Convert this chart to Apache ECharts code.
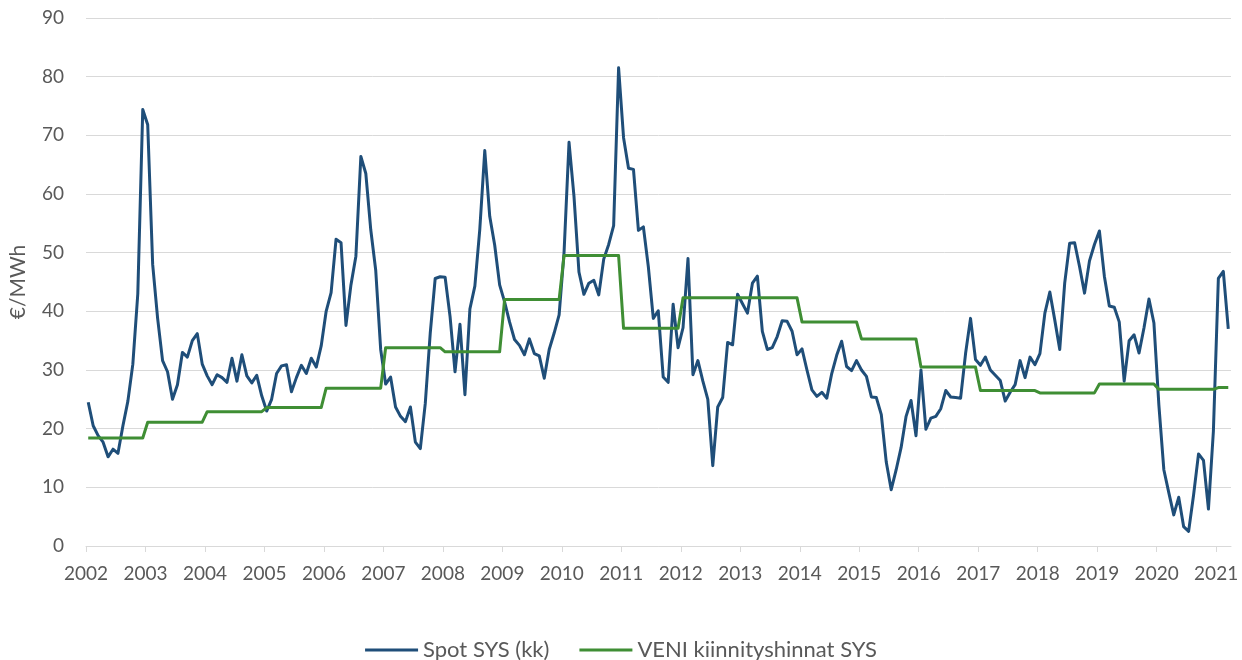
<!DOCTYPE html>
<html>
<head>
<meta charset="utf-8">
<script src="https://cdn.jsdelivr.net/npm/echarts@6/dist/echarts.min.js"></script>
<style>
html,body{margin:0;padding:0;background:#fff;}
#chart{width:1242px;height:660px;}
</style>
</head>
<body>
<div id="chart"></div>
<script>
// ---- data ----
const startYear = 2002;
const tickYears = [2002,2003,2004,2005,2006,2007,2008,2009,2010,2011,2012,2013,2014,2015,2016,2017,2018,2019,2020,2021];
const yTicks = [0,10,20,30,40,50,60,70,80,90];
const seriesNames = ['Spot SYS (kk)', 'VENI kiinnityshinnat SYS'];

// Monthly spot system price, Jan 2002 .. Mar 2021 (EUR/MWh)
const spotValues = [
  24.5, 20.5, 18.8, 17.7, 15.2, 16.5, 15.8, 20.5, 24.7, 31.0, 43.0, 74.4,   // 2002
  71.8, 48.0, 38.8, 31.6, 29.7, 25.0, 27.5, 33.0, 32.2, 35.0, 36.2, 31.0,   // 2003
  29.0, 27.5, 29.2, 28.7, 27.9, 32.0, 28.1, 32.6, 29.0, 27.8, 29.1, 25.6,   // 2004
  23.0, 25.0, 29.4, 30.7, 30.9, 26.3, 28.7, 30.8, 29.4, 32.0, 30.5, 34.1,   // 2005
  40.0, 43.2, 52.3, 51.7, 37.6, 44.5, 49.4, 66.4, 63.5, 53.9, 47.0, 33.5,   // 2006
  27.6, 28.8, 23.7, 22.1, 21.2, 23.7, 17.7, 16.6, 24.3, 36.3, 45.6, 45.9,   // 2007
  45.8, 39.1, 29.7, 37.8, 25.8, 40.4, 44.3, 54.0, 67.4, 56.2, 51.3, 44.5,   // 2008
  41.6, 38.2, 35.2, 34.2, 32.6, 35.3, 32.8, 32.4, 28.6, 33.5, 36.3, 39.4,   // 2009
  50.1, 68.8, 59.6, 46.7, 42.9, 44.8, 45.3, 42.8, 48.9, 51.4, 54.6, 81.5,   // 2010
  69.6, 64.4, 64.2, 53.8, 54.4, 47.6, 38.8, 40.1, 28.8, 27.9, 41.2, 33.8,   // 2011
  37.2, 49.0, 29.2, 31.6, 28.1, 25.0, 13.7, 23.7, 25.3, 34.7, 34.3, 42.9,   // 2012
  41.3, 39.7, 44.8, 46.0, 36.6, 33.5, 33.8, 35.7, 38.4, 38.3, 36.6, 32.6,   // 2013
  33.6, 30.0, 26.6, 25.5, 26.2, 25.2, 29.4, 32.5, 34.9, 30.6, 29.9, 31.6,   // 2014
  30.0, 28.9, 25.4, 25.3, 22.4, 14.3,  9.6, 13.0, 16.8, 22.1, 24.8, 18.8,   // 2015
  30.0, 19.9, 21.8, 22.1, 23.4, 26.5, 25.4, 25.3, 25.2, 32.8, 38.8, 31.8,   // 2016
  30.8, 32.2, 30.0, 29.1, 28.2, 24.7, 26.2, 27.5, 31.6, 28.7, 32.2, 30.9,   // 2017
  32.8, 39.7, 43.3, 38.5, 33.5, 44.8, 51.6, 51.7, 47.6, 43.1, 48.6, 51.4,   // 2018
  53.7, 46.0, 40.9, 40.7, 38.2, 28.1, 35.0, 36.0, 32.9, 37.2, 42.1, 38.0,   // 2019
  24.0, 13.0,  9.1,  5.3,  8.3,  3.3,  2.5,  8.7, 15.7, 14.6,  6.3, 19.6,   // 2020
  45.6, 46.8, 37.0                                                          // 2021
];

// VENI yearly fixing price (one level per calendar year)
const veniYears  = [2002,2003,2004,2005,2006,2007,2008,2009,2010,2011,2012,2013,2014,2015,2016,2017,2018,2019,2020,2021];
const veniValues = [18.4,21.1,22.9,23.6,26.9,33.8,33.1,42.0,49.5,37.1,42.3,42.3,38.2,35.3,30.5,26.5,26.1,27.6,26.7,27.0];

// ---- build series data (monthly points at mid-month) ----
const monthPos = (idx) => startYear + (idx + 0.45) / 12;
const spotData = spotValues.map((v, i) => [monthPos(i), v]);
const lastIdx = spotValues.length - 1;
const veniData = [];
veniYears.forEach((yr, k) => {
  const first = (yr - startYear) * 12;
  const last = Math.min(first + 11, lastIdx);
  veniData.push([monthPos(first), veniValues[k]]);
  veniData.push([monthPos(last), veniValues[k]]);
});

const FONT = 'Lato';
const chart = echarts.init(document.getElementById('chart'), null, {renderer: 'canvas'});
chart.setOption({
  animation: false,
  backgroundColor: '#ffffff',
  grid: {left: 84, right: 11, top: 18, bottom: 114, containLabel: false},
  legend: {
    top: 634,
    left: 'center',
    icon: 'rect',
    itemWidth: 53,
    itemHeight: 3,
    itemGap: 30,
    textStyle: {color: '#595959', fontSize: 22, fontFamily: FONT},
    data: seriesNames
  },
  xAxis: {
    type: 'value',
    min: 2002,
    max: 2021.25,
    interval: 1,
    axisLine: {show: true, lineStyle: {color: '#d9d9d9', width: 1}},
    axisTick: {show: true, length: 6, lineStyle: {color: '#d9d9d9'}, customValues: tickYears},
    axisLabel: {
      color: '#595959', fontSize: 19, fontFamily: FONT, margin: 18,
      customValues: tickYears,
      formatter: (v) => String(Math.round(v))
    },
    splitLine: {show: false}
  },
  yAxis: {
    type: 'value',
    min: 0,
    max: 90,
    interval: 10,
    name: '€/MWh',
    nameLocation: 'middle',
    nameGap: 57,
    nameTextStyle: {color: '#595959', fontSize: 21, fontFamily: FONT},
    axisLine: {show: false},
    axisTick: {show: false},
    axisLabel: {color: '#595959', fontSize: 19, fontFamily: FONT, margin: 22},
    splitLine: {show: true, lineStyle: {color: '#d9d9d9', width: 1}}
  },
  series: [
    {
      name: seriesNames[0],
      type: 'line',
      data: spotData,
      symbol: 'none',
      lineStyle: {color: '#1f4e79', width: 3, join: 'round'},
      itemStyle: {color: '#1f4e79'},
      z: 2
    },
    {
      name: seriesNames[1],
      type: 'line',
      data: veniData,
      symbol: 'none',
      lineStyle: {color: '#3f8e34', width: 3, join: 'round'},
      itemStyle: {color: '#3f8e34'},
      z: 3
    }
  ]
});
</script>
</body>
</html>
